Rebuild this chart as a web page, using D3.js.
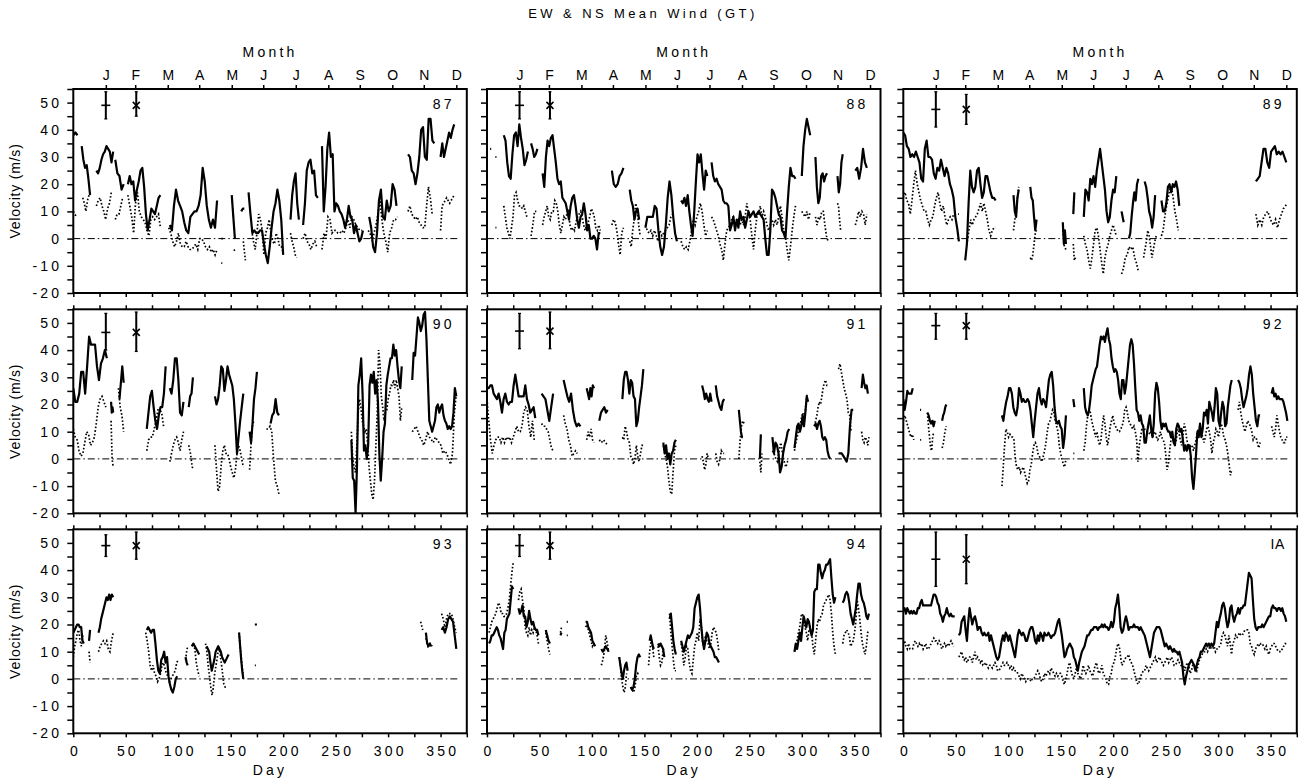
<!DOCTYPE html>
<html>
<head>
<meta charset="utf-8">
<script src="https://cdn.jsdelivr.net/npm/d3@7"></script>
<style>
  body { margin: 0; background: #fff; }
  text { font-family: "Liberation Sans", Arial, sans-serif; fill: #000; }
</style>
</head>
<body>
<svg id="chart" width="1301" height="780"></svg>
<script>
// Each series is a list of segments: [firstDay, lastDay, [values evenly spread over those days]]
// gaps in the record are simply the space between segments.

var MONTHS = ["J", "F", "M", "A", "M", "J", "J", "A", "S", "O", "N", "D"];
var MONTH_DAYS = [31, 59, 90, 120, 151, 181, 212, 243, 273, 304, 334, 365];
var YEARS = ["87", "88", "89", "90", "91", "92", "93", "94", "IA"];
var MARK_DAYS = [31, 60]; // where the EW (+) and NS (x) error bars sit

// error bars per panel: [mean, low, high]
var ERR_EW = [[49,44,54],[49,44,54],[47.5,41,54],[46.5,40,53.5],[47,40.5,53.5],[49,44,53.5],[49,45,53],[49,45,53],[44,34,54]];
var ERR_NS = [[49,45,54],[49,44,54],[47.5,42,53],[46.5,39.5,54],[47,40.5,54],[49,44,53.5],[49,44,54],[49,44,54],[44,35,53]];

var EW87 = [
  [0,4,[38,39,38]], [8,16,[34,29,26,27,22,16]], [22,38,[25,24,26,29,31,32,34,33,32,28,32]],
  [40,48,[29,24,23,18,20]],
  [52,83,[20,23,20,21,14,18,21,25,26,19,9,3,7,11,10,9,12,15,16]],
  [92,137,[5,3,12,18,14,12,10,6,3,2,8,9,10,10,12,16,26,21,12,7,4,7,4,14]],
  [151,154,[16,0]], [160,163,[10,11,11]],
  [167,200,[17,9,2,3,2,2,3,3,-2,-6,-9,-3,4,10,13,18,14,7,-6]],
  [207,215,[7,16,21,24,13,7]], [219,233,[5,13,25,28,29,24,25,16,15]],
  [237,276,[34,10,19,33,39,30,31,10,13,12,10,9,7,4,7,12,8,7,2,5,2,-1,0,3]],
  [282,308,[8,4,-3,-5,2,14,18,8,7,14,10,12,20,18,12]],
  [319,344,[31,30,25,24,20,24,30,40,41,30,29,44,44,36,35]],
  [350,363,[30,35,30,33,36,39,37,40,42]]
];
var NS87 = [
  [0,3,[10,8]], [9,15,[15,13,10,14,16]], [22,38,[12,14,15,12,10,7,11,13,17,17]],
  [40,47,[7,9,9,12,15]],
  [52,83,[16,12,8,2,13,17,10,8,7,6,3,1,7,8,7,8,9,4]],
  [91,137,[4,2,-1,-3,-1,2,-2,-3,-3,-1,-3,-4,-4,-3,-2,-4,0,0,-1,-3,-4,-3,-5,-4,-6,-4]],
  [141,143,[0,0]], [141,142,[-9,-9]], [153,155,[-4,-5]], [162,164,[-1,-8]],
  [170,200,[3,-1,-4,2,9,7,3,-6,2,4,7,2,-1,-2,2,0,-3,-3,-5]],
  [207,213,[2,-1,-3,-6,-7]], [219,232,[0,2,-1,-2,-4,-2,-1,-3]],
  [237,275,[-4,2,0,8,7,2,3,3,2,2,3,2,4,7,4,8,7,5,4,3,3]],
  [281,309,[3,2,-1,2,5,9,14,7,2,-1,-5,2,4,7,7,8]],
  [319,342,[10,12,9,8,7,8,6,5,4,4,12,19,15,9]],
  [350,363,[3,12,13,14,15,14,13,14,15,16]]
];

var EW88 = [
  [3,4,[33,33]], [8,9,[30,30]],
  [16,39,[38,36,28,23,22,31,38,39,34,42,37,33,27,29,32]],
  [42,48,[35,33,30,31,33]],
  [53,108,[24,19,30,36,34,37,38,33,28,22,20,21,15,14,13,10,7,12,15,16,12,7,4,8,9,13,9,3,5,0,0,1,0,-4,2,2]],
  [119,130,[25,20,19,20,23,24,26]], [136,145,[18,14,12,7,10,11,7]],
  [151,181,[4,8,8,8,8,12,11,3,-3,-6,-3,5,15,21,16,8,2,-1]],
  [185,210,[14,13,15,12,16,10,5,1,10,21,31,28,31,24,18,25,23]],
  [214,294,[28,23,21,22,20,19,18,14,13,13,12,3,5,8,3,7,4,10,7,8,4,7,10,8,9,10,8,9,10,9,8,7,0,-6,-6,3,18,17,15,12,9,8,3,2,0,10,19,26,23,23,22]],
  [300,308,[23,34,40,44,41,38]], [313,324,[30,19,13,15,23,24,21,23,24]],
  [334,339,[23,17,20,28,31]], [351,362,[25,26,22,26,33,28,26]]
];
var NS88 = [
  [8,9,[4,4]], [16,38,[12,8,4,2,0,4,8,16,17,14,12,12,11,12,10,8]], [42,47,[1,5,10,10]],
  [53,108,[5,8,10,12,8,7,10,10,14,13,10,5,2,5,8,7,9,10,5,3,4,3,6,8,9,10,8,5,3,5,6,8,11,10,8,4,3,5,3]],
  [119,130,[5,7,6,3,-2,-6,2,4]], [136,146,[-1,-3,3,7,13,10,5,1]],
  [151,177,[5,3,2,3,1,3,1,-1,3,1,2,3,4,5,8,9]],
  [185,210,[-1,-3,-4,-3,-4,-1,3,7,5,8,10,13,10,5,1,3]],
  [214,294,[8,7,5,3,1,-2,-4,-8,-2,3,4,5,7,8,5,6,7,5,7,5,8,13,9,7,1,-4,3,8,9,12,8,10,8,5,3,5,7,5,7,5,8,12,8,3,1,-4,-8,-3,3,8,12]],
  [300,308,[10,9,8,10,7,10]], [313,325,[8,5,8,7,10,10,5,1,-1]],
  [334,337,[13,12,7,3]], [351,362,[5,7,10,8,10,9,5,9]]
];

var EW89 = [
  [0,53,[39,38,34,33,30,31,30,32,30,28,22,21,33,36,30,30,29,24,22,26,25,29,26,23,26,24,20,18,15,8,4,-1]],
  [59,88,[-8,-2,13,25,19,17,19,25,26,20,15,17,23,23,20,17,15,15,14]],
  [105,110,[16,10,8,15,18]], [121,127,[19,15,14,8,3,7]],
  [152,155,[6,-2,3,-2]], [162,163,[9,17]],
  [172,203,[8,18,17,14,22,20,23,19,25,29,33,28,23,18,10,6,8,14,18,17,23]],
  [208,210,[10,6]], [215,224,[0,2,8,13,17,14,20,22]],
  [230,240,[21,19,15,10,8,4,8,16]],
  [246,263,[14,10,10,13,19,20,17,20,19,21,18,12]],
  [336,365,[21,22,23,28,33,33,28,26,32,33,34,31,32,31,32,30,28]]
];
var NS89 = [
  [0,53,[15,17,14,13,9,14,20,25,20,17,14,12,10,10,7,5,7,8,12,15,17,13,10,12,8,5,7,8,7,9,9,9,9]],
  [61,88,[-1,3,7,5,7,8,9,11,13,10,13,10,7,3,1,3,4,4]],
  [105,110,[3,7,9,15,19]], [121,127,[-7,-8,-6,-2,2,3]],
  [152,155,[3,-3,-4]], [162,164,[-2,-8,-7]],
  [172,203,[1,-2,-4,-8,-11,-7,-2,3,4,1,-4,-9,-13,-7,-4,-2,1,3,5,3,1]],
  [208,224,[-13,-11,-7,-6,-3,-4,-3,-7,-9,-12]],
  [229,241,[-7,-4,-1,3,1,-3,-7,-4,-1,1]],
  [246,262,[1,3,8,12,15,18,19,15,10,7,3]],
  [336,366,[9,5,7,5,8,9,10,8,6,5,7,4,7,9,11,12,13]]
];

var EW90 = [
  [0,32,[26,21,21,24,32,32,24,34,45,42,42,42,34,29,35,37,40,37]],
  [36,38,[21,17,19,17]], [44,48,[22,28,34,28]],
  [70,88,[11,17,23,25,19,14,11,16,19,19,24,34]],
  [92,105,[26,24,29,37,37,29,17,16,21]], [110,114,[19,23,24,30]],
  [135,162,[23,20,22,27,34,33,25,29,34,31,29,27,22,13,2,8,14,19,24]],
  [168,175,[10,6,13,22,26,32]], [188,196,[13,16,17,22,17,16]],
  [265,313,[7,-7,-8,-20,-3,27,31,37,24,3,5,0,5,27,31,28,32,24,29,21,2,-8,0,10,13,27,31,34,37,37,42,38,40,34,29,26,34]],
  [323,365,[29,39,38,45,52,50,47,49,53,54,44,29,14,12,10,12,14,19,20,17,19,20,16,14,13,11,12,11,12,17,26,23]]
];
var NS90 = [
  [0,31,[11,8,7,3,1,2,6,10,9,5,6,8,13,19,22,23,21,19]],
  [36,38,[14,0,-3]], [43,48,[26,19,16,10]],
  [70,86,[3,7,8,8,11,14,18,18,17,12]],
  [92,105,[-1,2,5,7,8,6,3,7,10]], [110,115,[5,2,-3,-4]],
  [135,162,[5,-4,-12,-10,-2,3,5,2,2,0,-3,-5,-7,-4,2,5,3,0,-3]],
  [168,172,[-4,5,12,14]], [184,196,[11,11,12,10,0,-8,-10,-13]],
  [265,313,[10,0,-3,-5,5,17,22,19,14,12,10,11,5,-3,-8,-13,-15,-8,5,17,40,35,23,19,14,17,18,22,24,27,27,29,26,29,26,23,14,19]],
  [323,365,[10,11,12,10,8,7,5,7,10,8,7,6,8,7,6,5,2,3,2,0,-2,2,17,24]]
];

var EW91 = [
  [0,46,[26,26,27,27,24,23,22,24,21,17,22,24,21,20,21,21,27,31,27,23,23,23,23,27,22,20,17,18,19,15]],
  [52,63,[24,23,22,18,14,19,24]], [73,89,[29,26,23,21,24,18,14,12,13,12]],
  [95,102,[26,24,22,26,23,27,26]], [107,115,[14,17,18,19,17,18]],
  [129,149,[22,29,32,32,29,24,29,28,23,22,12,14,19,23,27,33]],
  [168,180,[6,2,5,0,2,-2,2,3,6,7]],
  [205,214,[27,25,22,24,22,21,24,21]], [218,226,[27,23,21,19,18,21,22]],
  [240,244,[18,14,10,8,8]], [260,261,[0,9]],
  [272,288,[8,2,6,5,2,-5,-3,2,5,7,10,11]],
  [293,306,[4,8,12,13,10,12,16,12,17,23,21]],
  [312,327,[12,13,11,13,14,12,8,7,8,7,3,1,0]],
  [335,349,[2,2,2,1,0,-1,2,12,18,18]], [357,363,[26,31,28,26,27,24]]
];
var NS91 = [
  [0,45,[22,14,7,2,5,7,8,8,6,8,6,8,7,8,6,8,10,12,10,10,12,17,19,18,12,8,14,7]],
  [52,63,[13,12,12,11,10,7,4,3]], [73,86,[16,13,11,7,5,1,2,3,2]],
  [95,102,[7,10,8,11,7,6]], [107,115,[7,6,7,6,5]],
  [129,149,[8,7,12,10,7,6,1,0,-2,0,5,1,-1,2,5,5]],
  [168,180,[5,2,0,-3,-8,-12,-13,-5,3,5]],
  [205,211,[1,-1,-4,-2,2,0]], [218,226,[2,-1,-2,0,3,2,2]],
  [240,245,[0,7,12,14,13]], [260,262,[-1,-5,2]],
  [272,288,[3,2,0,-1,3,6,2,-1,-3,-1,-1]],
  [293,305,[3,6,8,11,12,15,17,14,19,24]],
  [312,325,[12,14,16,19,21,20,23,26,28,29,27,27]],
  [335,347,[33,35,32,29,26,24,22,17,16,10]], [357,364,[10,7,6,8,7,5,8]]
];

var EW92 = [
  [0,9,[22,18,21,25,24,24,24,26]], [16,17,[18,18]], [23,30,[17,16,14,13,14,12,14]],
  [37,41,[14,16,17,19,20]],
  [94,155,[16,14,18,21,23,26,26,24,19,17,16,19,26,24,21,22,21,21,22,21,18,13,8,14,19,24,26,22,20,22,21,19,24,29,31,32,27,19,14,13,14,12,11,4,8,16]],
  [162,163,[22,19]],
  [172,313,[26,19,17,16,18,22,27,29,31,33,34,38,42,45,44,45,43,46,48,44,42,37,34,32,33,32,29,24,22,29,29,24,27,32,37,42,44,42,35,26,18,17,14,16,13,12,6,6,10,13,16,11,8,13,24,28,26,21,14,11,13,12,13,11,10,10,8,10,6,5,11,13,12,10,11,7,3,5,3,5,5,1,-7,-11,-5,2,10,8,13,8,11,17,16,18,13,21,19,17,14,19,26,24,14,12,17,21,19,12,13,19,23,27,29]],
  [319,340,[29,28,26,22,19,21,23,26,31,34,31,24,19,14,12,16,16]],
  [351,366,[24,26,23,24,22,23,22,22,22,21,19,17,14]]
];
var NS92 = [
  [0,10,[14,16,14,12,10,8,9,7]], [16,17,[7,7]], [23,29,[17,12,8,4,3,8,10]],
  [37,41,[4,6,10,12]],
  [94,155,[-10,-3,5,11,10,8,9,8,8,7,0,-3,-4,-3,-5,-4,-3,-5,-7,-9,-8,-4,-2,2,5,6,5,2,1,0,-1,1,3,6,10,13,14,16,18,17,14,12,10,5,2,0,-2,-3,0]],
  [162,163,[2,2]],
  [172,313,[3,6,12,16,18,17,14,12,10,8,10,7,5,7,12,16,13,8,5,8,12,14,16,13,12,11,10,10,11,12,14,18,19,17,14,13,12,11,12,10,7,-1,5,8,11,12,11,10,10,10,9,10,8,9,10,8,7,8,10,8,7,6,2,-4,-2,3,7,8,6,5,7,11,10,7,5,8,13,11,7,5,3,5,5,3,5,7,10,11,12,10,8,6,8,11,12,10,7,2,6,8,11,10,8,11,13,11,8,7,5,2,-2,-6,-4]],
  [319,340,[18,21,17,14,12,10,12,14,13,12,10,7,8,8,6,4,6]],
  [351,366,[12,10,8,11,16,13,10,8,7,6,6,8,8]]
];

var EW93 = [
  [0,10,[17,18,19,20,20,19,19,14,13]], [15,16,[14,18]],
  [24,38,[17,19,22,24,26,28,30,29,31,29,31,30]],
  [70,99,[18,19,18,17,18,18,13,7,3,2,7,8,10,6,8,1,-2,-4,-5,-3,0,1]],
  [107,109,[8,6,5]], [113,120,[12,13,12,11,10,9]],
  [127,148,[12,11,10,6,3,5,7,10,11,12,11,10,8,7,6,7,8,9]],
  [158,162,[17,12,7,3,0]], [173,175,[20,20]],
  [336,341,[17,13,12,13,12]], [351,365,[18,19,17,19,22,23,22,21,16,11]]
];
var NS93 = [
  [0,9,[8,12,14,17,18,14,12,16]], [15,16,[10,6]],
  [24,38,[10,12,13,14,13,14,11,10,14,17]],
  [69,100,[17,14,10,5,3,5,2,1,-1,0,2,5,6,4,2,1,-1,0,1,2,3,6,7]],
  [107,109,[7,10,12]], [113,120,[12,13,11,6,3,1]],
  [126,146,[13,10,5,1,-3,-6,-3,2,5,8,11,10,6,2,-2,-3,-3]],
  [158,162,[17,12,8,4,1]], [173,174,[5,5]],
  [331,333,[21,18]], [336,342,[15,12,13,12]],
  [351,365,[24,22,19,22,24,24,24,22,19,17]]
];

var EW94 = [
  [2,25,[13,14,16,16,17,18,19,18,16,15,13,11,17,18,22,23,24,29,34,33]],
  [30,49,[26,24,25,27,23,23,19,21,25,22,20,21,19,18,18,16]],
  [56,60,[18,16,14,13]], [70,71,[16,17]], [76,77,[21,21]],
  [94,103,[21,21,19,18,17,14,13,12]], [109,116,[11,10,11,12,11,10]],
  [126,134,[8,5,2,0,3,5,6,3]], [137,146,[-3,-4,-3,0,5,8,9,8]],
  [155,159,[14,16,14,12,11]], [163,169,[13,12,13,12,11,8]],
  [174,180,[22,24,19,14,11,9]],
  [185,221,[14,12,10,12,14,16,15,16,17,19,26,28,30,31,26,19,14,11,14,17,16,13,12,11,10,8,8,7,6]],
  [293,332,[10,13,11,14,17,14,19,23,21,19,22,21,18,16,18,32,33,33,42,42,39,37,39,40,42,42,43,44,37,31,28,30]],
  [339,364,[28,29,31,32,31,28,24,22,20,23,26,31,35,35,31,29,28,26,23,22,24]]
];
var NS94 = [
  [2,25,[17,19,21,22,23,24,26,28,27,24,24,23,23,24,26,29,34,39,43]],
  [30,49,[29,32,33,29,26,19,17,16,19,16,18,17,19,18,16,13]],
  [56,60,[17,14,11,9]], [70,71,[17,19]], [76,77,[16,16]],
  [94,103,[19,20,18,16,14,12,13,12]], [109,116,[5,7,10,16,13,10]],
  [126,133,[8,5,0,-3,-5,-3,2]], [137,145,[-3,-4,-5,-3,1,2,1]],
  [154,159,[5,10,13,14,11,8]], [163,169,[12,8,5,6,10,11]],
  [174,180,[24,17,12,7,3,3]],
  [185,221,[13,10,5,8,12,11,6,3,2,7,12,14,17,14,22,19,13,12,16,14,13,11,13,17,19,18,17,14,10]],
  [293,332,[10,12,14,17,19,23,24,22,19,17,14,18,19,17,12,9,14,19,22,21,23,24,27,28,29,30,31,29,24,17,12,9]],
  [339,364,[13,16,17,18,17,16,12,13,14,17,21,29,26,22,17,13,11,9,12,17,18]]
];

var EWIA = [
  [0,49,[25,26,24,26,25,24,25,24,25,24,24,26,26,28,29,27,27,27,27,27,27,27,29,31,31,30,28,27,24,23,21,23,24,26,24,23,24,23,23,23]],
  [53,365,[16,17,21,22,23,18,14,21,26,23,20,22,23,21,18,19,19,17,16,17,16,16,17,14,16,14,12,10,8,7,8,11,14,16,14,17,16,14,16,14,12,10,8,12,16,18,17,16,17,16,14,14,16,18,19,19,17,14,13,16,14,17,16,14,17,16,16,17,16,15,16,16,17,19,21,22,19,16,12,8,9,11,12,13,12,11,8,7,5,3,6,8,10,11,12,14,16,16,17,18,18,19,19,19,18,19,19,20,19,20,19,19,18,19,21,19,21,26,28,31,26,19,17,18,21,23,21,18,19,19,19,20,19,19,19,18,19,18,17,16,14,12,10,8,11,14,17,18,19,19,19,18,16,14,12,13,12,11,12,11,10,11,10,10,9,10,8,6,1,-2,1,3,5,6,7,6,5,3,5,7,8,10,10,11,12,13,12,13,12,13,12,13,17,21,19,22,24,27,28,26,22,19,21,26,27,23,21,23,24,26,24,26,26,27,27,31,35,39,38,37,29,22,19,18,19,19,19,20,19,20,21,22,23,23,26,27,26,26,25,26,26,25,26,24,23,21]]
];
var NSIA = [
  [0,48,[13,14,12,11,13,11,11,11,13,14,13,12,13,12,13,11,12,13,11,11,12,13,14,15,14,14,13,14,13,11,12,13,12,13,12,13,14,13,12]],
  [53,365,[8,9,10,8,7,8,6,7,8,8,6,8,10,7,8,7,6,7,5,5,6,5,4,5,5,4,5,6,5,3,3,4,5,6,5,5,6,5,4,5,3,4,3,3,2,1,0,2,1,0,-1,0,0,0,-1,0,0,1,2,3,2,0,-1,0,2,1,2,3,2,4,3,2,1,2,1,2,2,1,-1,-2,0,2,5,6,3,1,0,2,4,2,1,0,2,5,3,2,3,5,3,2,1,3,5,6,3,2,3,5,2,1,0,-2,-2,1,2,5,6,8,11,13,12,8,5,6,7,8,8,9,7,6,5,3,1,-1,-2,-1,1,2,3,3,5,4,3,4,5,6,7,8,6,7,8,7,6,5,6,7,8,6,7,8,7,5,5,6,7,6,5,5,5,3,5,6,5,2,3,5,5,4,3,5,7,8,9,10,10,11,10,11,12,11,11,12,10,11,11,12,13,16,17,16,14,12,16,13,9,13,14,16,15,16,17,16,16,17,18,18,18,17,13,12,10,9,11,12,13,12,13,13,12,11,12,10,9,11,12,13,13,12,11,10,10,10,11,12,13,13]]
];

var EW_ALL = [EW87, EW88, EW89, EW90, EW91, EW92, EW93, EW94, EWIA];
var NS_ALL = [NS87, NS88, NS89, NS90, NS91, NS92, NS93, NS94, NSIA];

(function () {
  "use strict";
  var svg = d3.select("#chart");
  var COL_X = [73.3, 487, 903.3], ROW_Y = [89, 309.3, 529.3];
  var PW = 393.5, PH = 204;
  var FS = "14px", LS = "3.2px";

  var x = d3.scaleLinear().domain([0, 375]).range([0, PW]);
  var y = d3.scaleLinear().domain([-20, 55]).range([PH, 0]);
  var line = d3.line().x(function (d) { return x(d[0]); }).y(function (d) { return y(d[1]); });

  function pts(seg) {
    var n = seg[2].length;
    return seg[2].map(function (v, i) { return [seg[0] + (seg[1] - seg[0]) * i / (n - 1), v]; });
  }

  svg.append("text").attr("x", 643).attr("y", 18).attr("text-anchor", "middle")
    .style("font-size", "13px").style("letter-spacing", "3.4px").text("EW & NS Mean Wind (GT)");

  var defs = svg.append("defs");

  YEARS.forEach(function (yr, i) {
    var col = i % 3, row = Math.floor(i / 3);
    var g = svg.append("g").attr("transform", "translate(" + COL_X[col] + "," + ROW_Y[row] + ")");
    defs.append("clipPath").attr("id", "clip" + i).append("rect").attr("width", PW).attr("height", PH);
    var plot = g.append("g").attr("clip-path", "url(#clip" + i + ")");

    // zero reference
    plot.append("line").attr("x1", x(0)).attr("x2", x(366)).attr("y1", y(0)).attr("y2", y(0))
      .attr("stroke", "#000").attr("stroke-width", 1).attr("stroke-dasharray", "7,3,1.5,3");

    plot.selectAll("path.ns").data(NS_ALL[i]).join("path").attr("class", "ns")
      .attr("d", function (s) { return line(pts(s)); })
      .attr("fill", "none").attr("stroke", "#000").attr("stroke-width", 1.7)
      .attr("stroke-dasharray", "1.6,2");
    plot.selectAll("path.ew").data(EW_ALL[i]).join("path").attr("class", "ew")
      .attr("d", function (s) { return line(pts(s)); })
      .attr("fill", "none").attr("stroke", "#000").attr("stroke-width", 2.2).attr("stroke-linejoin", "round");

    // error bar markers: + for EW, x for NS
    [ERR_EW[i], ERR_NS[i]].forEach(function (e, k) {
      var cx = x(MARK_DAYS[k]), cy = y(e[0]);
      var m = g.append("g").attr("stroke", "#000").attr("stroke-width", 2);
      m.append("line").attr("x1", cx).attr("x2", cx).attr("y1", y(e[1])).attr("y2", y(e[2]));
      m.append("line").attr("x1", cx - 1.5).attr("x2", cx + 1.5).attr("y1", y(e[1])).attr("y2", y(e[1])).attr("stroke-width", 1.2);
      m.append("line").attr("x1", cx - 1.5).attr("x2", cx + 1.5).attr("y1", y(e[2])).attr("y2", y(e[2])).attr("stroke-width", 1.2);
      if (k === 0) {
        m.append("line").attr("x1", cx - 4.5).attr("x2", cx + 4.5).attr("y1", cy).attr("y2", cy).attr("stroke-width", 1.6);
      } else {
        m.append("line").attr("x1", cx - 3.5).attr("x2", cx + 3.5).attr("y1", cy - 3.5).attr("y2", cy + 3.5).attr("stroke-width", 1.6);
        m.append("line").attr("x1", cx - 3.5).attr("x2", cx + 3.5).attr("y1", cy + 3.5).attr("y2", cy - 3.5).attr("stroke-width", 1.6);
      }
    });

    // axes
    var left = g.append("g").call(d3.axisLeft(y).tickValues(d3.range(-20, 56, 5)).tickSize(6).tickSizeOuter(0).tickPadding(5)
      .tickFormat(function (d) { return (col === 0 && d % 10 === 0) ? String(d) : ""; }));
    var bottom = g.append("g").attr("transform", "translate(0," + PH + ")")
      .call(d3.axisBottom(x).tickValues(d3.range(0, 376, 25)).tickSize(4).tickSizeOuter(0).tickPadding(9)
        .tickFormat(function (d) { return (row === 2 && d % 50 === 0 && d <= 350) ? String(d) : ""; }));
    var top;
    if (row === 0) {
      top = g.append("g").call(d3.axisTop(x).tickValues(MONTH_DAYS).tickSize(4).tickSizeOuter(0).tickPadding(5)
        .tickFormat(function (d, j) { return MONTHS[j]; }));
      top.selectAll("text").style("letter-spacing", "0px");
      g.append("text").attr("x", PW / 2).attr("y", 57 - ROW_Y[0]).attr("text-anchor", "middle")
        .style("font-size", FS).style("letter-spacing", LS).text("Month");
    } else {
      top = g.append("g").call(d3.axisTop(x).tickValues(d3.range(0, 376, 25)).tickSize(4).tickSizeOuter(0).tickFormat(""));
    }
    [left, bottom, top].forEach(function (a) {
      a.attr("font-family", null).attr("font-size", null);
      a.selectAll("path.domain").remove();
      a.selectAll("line").attr("stroke-width", 1.5);
      a.selectAll("text").style("font-size", FS);
    });
    left.selectAll("text").style("letter-spacing", LS);
    bottom.selectAll("text").style("letter-spacing", LS).attr("dx", "1.6px");

    g.append("rect").attr("width", PW).attr("height", PH).attr("fill", "none")
      .attr("stroke", "#000").attr("stroke-width", 2);

    g.append("text").attr("x", PW - 12).attr("y", 20).attr("text-anchor", "end")
      .style("font-size", FS).style("letter-spacing", yr === "IA" ? "0.5px" : LS).text(yr);

    if (col === 0) {
      g.append("text").attr("transform", "translate(" + (20 - COL_X[0]) + "," + (PH / 2) + ") rotate(-90)")
        .attr("text-anchor", "middle").style("font-size", FS).style("letter-spacing", "0.8px").text("Velocity (m/s)");
    }
    if (row === 2) {
      g.append("text").attr("x", PW / 2).attr("y", 775 - ROW_Y[2]).attr("text-anchor", "middle")
        .style("font-size", FS).style("letter-spacing", LS).text("Day");
    }
  });
})();
</script>
</body>
</html>
